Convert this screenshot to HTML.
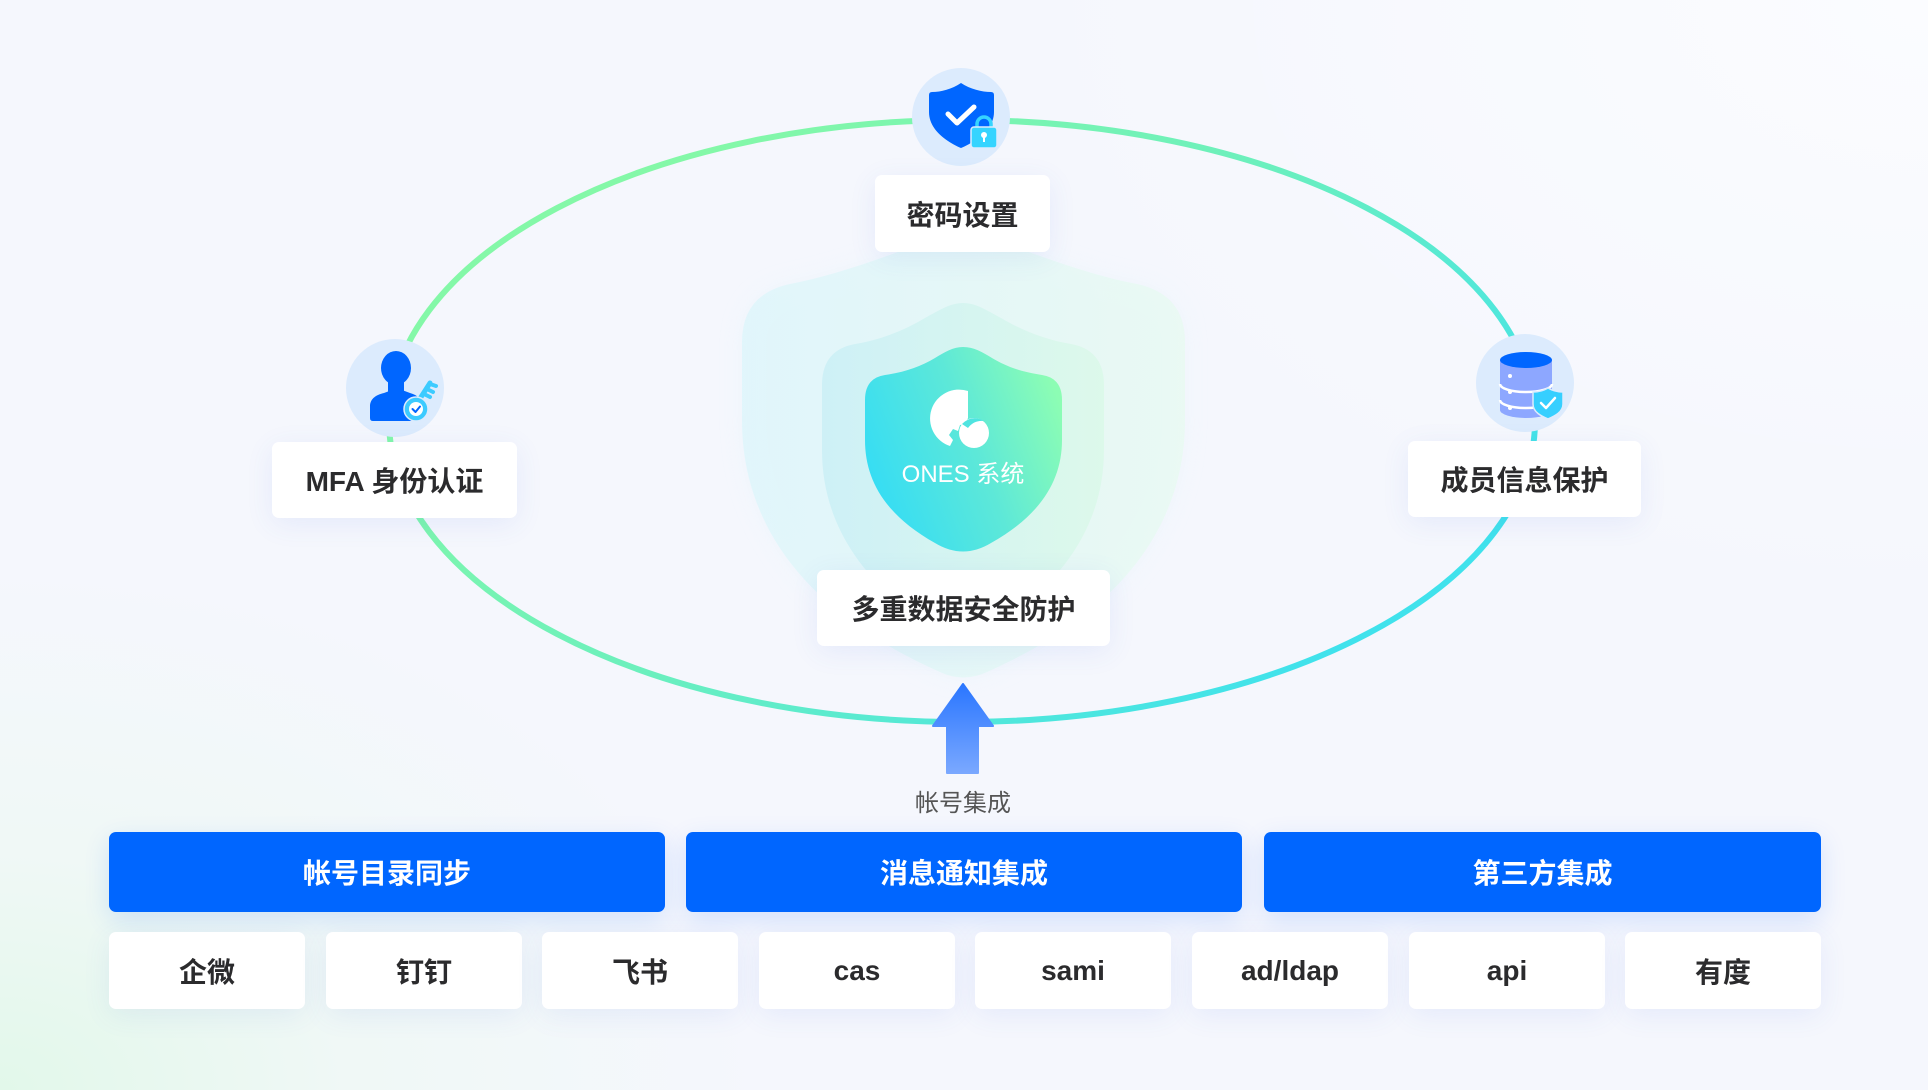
<!DOCTYPE html>
<html><head><meta charset="utf-8">
<style>
html,body{margin:0;padding:0;}
body{width:1928px;height:1090px;position:relative;overflow:hidden;
background:
 radial-gradient(ellipse 760px 520px at 0% 100%, rgba(226,248,234,1) 0%, rgba(236,249,241,0.6) 45%, rgba(244,247,253,0) 100%),
 radial-gradient(ellipse 900px 600px at 100% 0%, #fbfcff 0%, rgba(251,252,255,0) 100%),
 #f5f7fd;
font-family:"Liberation Sans","Noto Sans CJK SC",sans-serif;}
svg.bg{position:absolute;left:0;top:0;}
.box{position:absolute;background:#fff;border-radius:7px;display:flex;align-items:center;justify-content:center;
 font-weight:700;font-size:28px;color:#2b2b2d;box-shadow:0 6px 28px rgba(70,100,220,0.09);}
.bar{position:absolute;background:#0066ff;border-radius:7px;display:flex;align-items:center;justify-content:center;
 font-weight:700;font-size:28px;color:#fff;top:832px;height:80px;width:556px;box-shadow:0 8px 26px rgba(0,90,255,0.14);}
.sm{top:932px;height:77px;width:196px;}
.cap{position:absolute;left:863px;width:200px;top:783px;text-align:center;font-size:24px;color:#555;}
</style></head>
<body>
<svg class="bg" width="1928" height="1090" viewBox="0 0 1928 1090" xmlns="http://www.w3.org/2000/svg">
<defs>
 <linearGradient id="ring" gradientUnits="userSpaceOnUse" x1="750" y1="110" x2="1250" y2="720">
  <stop offset="0" stop-color="#84f8a8"/><stop offset="0.45" stop-color="#6cf0bc"/><stop offset="1" stop-color="#40e2ec"/>
 </linearGradient>
 <linearGradient id="sh1" x1="0" y1="0" x2="1" y2="0">
  <stop offset="0" stop-color="#ddf5fb"/><stop offset="1" stop-color="#e8faf1"/>
 </linearGradient>
 <linearGradient id="sh2" x1="0" y1="0" x2="1" y2="0">
  <stop offset="0" stop-color="#c9eff6"/><stop offset="1" stop-color="#daf9e8"/>
 </linearGradient>
 <linearGradient id="sh3" x1="0" y1="0.7" x2="1" y2="0.3">
  <stop offset="0" stop-color="#33dcf6"/><stop offset="0.55" stop-color="#5de8d8"/><stop offset="1" stop-color="#8cfdb4"/>
 </linearGradient>
 <linearGradient id="arr" x1="0" y1="0" x2="0" y2="1">
  <stop offset="0" stop-color="#2a76ff"/><stop offset="1" stop-color="#7aa8ff"/>
 </linearGradient>
 <filter id="blur" x="-20%" y="-20%" width="140%" height="140%"><feGaussianBlur stdDeviation="10"/></filter>
</defs>

<ellipse cx="962" cy="421" rx="573" ry="301" fill="none" stroke="url(#ring)" stroke-width="6"/>

<path d="M963,230 C935,236 860,270 795,283 Q742,292 742,342 L742,420 C742,520 800,610 940,672 Q963,683 987,672 C1127,610 1185,520 1185,420 L1185,342 Q1185,292 1132,283 C1067,270 992,236 963,230 Z" fill="#e6f5fb" opacity="0.5" filter="url(#blur)"/>
<path d="M963,230 C935,236 860,270 795,283 Q742,292 742,342 L742,420 C742,520 800,610 940,672 Q963,683 987,672 C1127,610 1185,520 1185,420 L1185,342 Q1185,292 1132,283 C1067,270 992,236 963,230 Z" fill="url(#sh1)" opacity="0.8"/>
<path d="M963,303 C950,303 940,310 925,318 C905,330 880,340 855,344 Q822,350 822,385 L822,450 C822,530 870,590 940,632 Q963,645 986,632 C1056,590 1104,530 1104,450 L1104,385 Q1104,350 1071,344 C1046,340 1021,330 1001,318 C986,310 976,303 963,303 Z" fill="url(#sh2)" opacity="0.8"/>
<path d="M963,347 C953,347 945,352 935,358 C920,367 905,372 885,375 Q865,378 865,400 L865,440 C865,480 885,515 935,543 Q963,560 991,543 C1041,515 1062,480 1062,440 L1062,400 Q1062,378 1042,375 C1022,372 1007,367 992,358 C982,352 974,347 963,347 Z" fill="url(#sh3)"/>

<path d="M968,391 A28,28 0 0 0 950,446 L953,440 L949,435 L953,429 L958,431 L960,425 L965,424 L968,418 Z" fill="#fff"/>
<circle cx="974" cy="433" r="15" fill="#fff"/>
<path d="M962,424 Q972,414 984,421 Q974,420 968,428 Z" fill="#4fe4e0"/>
<text x="963" y="482" text-anchor="middle" font-family="Liberation Sans, Noto Sans CJK SC, sans-serif" font-size="24" fill="#fff">ONES 系统</text>

<path d="M963,684 L993,726 L978,726 L978,773 L947,773 L947,726 L933,726 Z" fill="url(#arr)" stroke="url(#arr)" stroke-width="2" stroke-linejoin="round"/>

<circle cx="961" cy="117" r="49" fill="#dcebfd"/>
<circle cx="395" cy="388" r="49" fill="#dcebfd"/>
<circle cx="1525" cy="383" r="49" fill="#dcebfd"/>

<path d="M961,83 C970,89 982,92 991,92 Q994,92 994,95 L994,112 C994,130 975,142 961,148 C947,142 929,130 929,112 L929,95 Q929,92 932,92 C941,92 952,89 961,83 Z" fill="#0066ff"/>
<path d="M948,114 L957,123 L974,107" fill="none" stroke="#fff" stroke-width="5" stroke-linecap="round" stroke-linejoin="round"/>
<path d="M977,129 L977,124 A7,7 0 0 1 991,124 L991,129" fill="none" stroke="#35d4ff" stroke-width="3.5"/>
<rect x="971" y="127" width="26" height="21" rx="3" fill="#35d4ff" stroke="#dcebfd" stroke-width="1.5"/>
<circle cx="984" cy="135" r="3" fill="#fff"/>
<rect x="983" y="136" width="2" height="6" fill="#fff"/>

<ellipse cx="396" cy="368" rx="15" ry="17" fill="#0066ff"/>
<rect x="388" y="380" width="16" height="14" fill="#0066ff"/>
<path d="M370,418 L370,405 Q371,396 384,393 L392,390 L402,390 L410,393 Q421,396 422,405 L422,418 Q422,421 419,421 L373,421 Q370,421 370,418 Z" fill="#0066ff"/>
<path d="M414,408 L430,383" stroke="#3ccbff" stroke-width="5" stroke-linecap="round"/>
<path d="M424,394 L430,397 M427,389 L433,392 M430,384 L436,386" stroke="#3ccbff" stroke-width="4" stroke-linecap="round"/>
<circle cx="416" cy="409" r="12" fill="#3ccbff" stroke="#dcebfd" stroke-width="1.5"/>
<circle cx="416" cy="409" r="7" fill="#fff"/>
<path d="M412.5,409 L415.5,412 L420,406.5" fill="none" stroke="#0066ff" stroke-width="2" stroke-linecap="round" stroke-linejoin="round"/>

<path d="M1500,360 L1500,410 A26,8 0 0 0 1552,410 L1552,360 Z" fill="#8da7ff"/>
<path d="M1500,384 A26,8 0 0 0 1552,384" fill="none" stroke="#fff" stroke-width="2.5"/>
<path d="M1500,400 A26,8 0 0 0 1552,400" fill="none" stroke="#fff" stroke-width="2.5"/>
<ellipse cx="1526" cy="360" rx="26" ry="8" fill="#0066ff"/>
<circle cx="1510" cy="376" r="2" fill="#fff"/>
<circle cx="1510" cy="392" r="2" fill="#fff"/>
<circle cx="1510" cy="408" r="2" fill="#fff"/>
<path d="M1548,388 C1553,391 1558,392 1563,392 L1563,404 C1563,412 1555,416 1548,419 C1541,416 1533,412 1533,404 L1533,392 C1538,392 1543,391 1548,388 Z" fill="#36cfff" stroke="#dcebfd" stroke-width="1.5"/>
<path d="M1541,403 L1546,408 L1555,398" fill="none" stroke="#fff" stroke-width="2.5" stroke-linecap="round" stroke-linejoin="round"/>
</svg>

<div class="box" style="left:875px;top:175px;width:175px;height:77px;">密码设置</div>
<div class="box" style="left:272px;top:442px;width:245px;height:76px;">MFA 身份认证</div>
<div class="box" style="left:1408px;top:441px;width:233px;height:76px;">成员信息保护</div>
<div class="box" style="left:817px;top:570px;width:293px;height:76px;">多重数据安全防护</div>

<div class="cap">帐号集成</div>

<div class="bar" style="left:109px;">帐号目录同步</div>
<div class="bar" style="left:686px;">消息通知集成</div>
<div class="bar" style="left:1264px;width:557px;">第三方集成</div>

<div class="box sm" style="left:109px;">企微</div>
<div class="box sm" style="left:326px;">钉钉</div>
<div class="box sm" style="left:542px;">飞书</div>
<div class="box sm" style="left:759px;">cas</div>
<div class="box sm" style="left:975px;">sami</div>
<div class="box sm" style="left:1192px;">ad/ldap</div>
<div class="box sm" style="left:1409px;">api</div>
<div class="box sm" style="left:1625px;">有度</div>
</body></html>
